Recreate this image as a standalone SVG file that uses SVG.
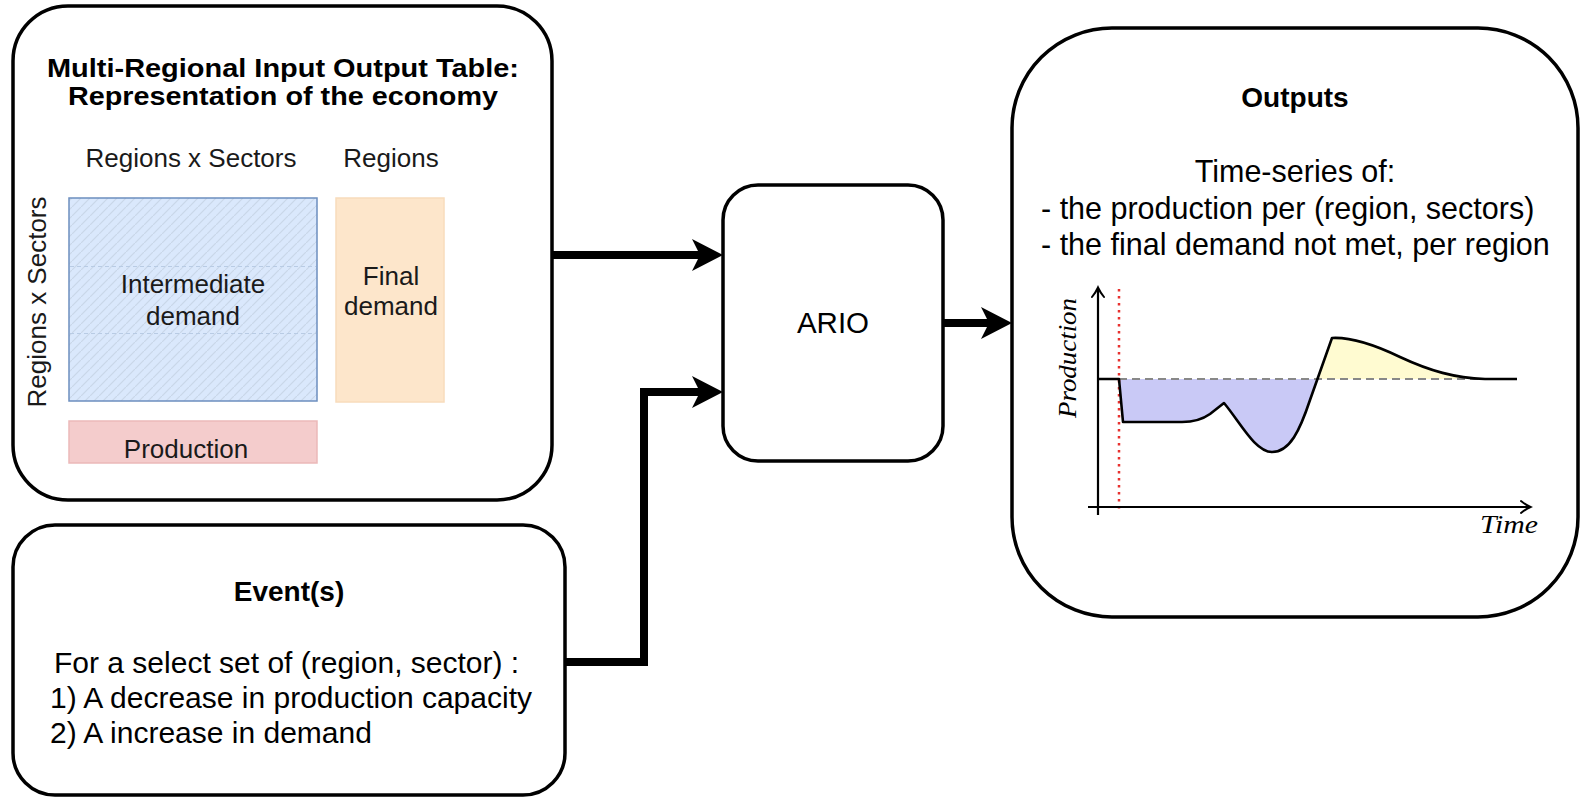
<svg xmlns="http://www.w3.org/2000/svg" width="1581" height="798" viewBox="0 0 1581 798">
<style>
.box{fill:#fff;stroke:#000;stroke-width:3.5}
.t{font-family:"Liberation Sans",Arial,sans-serif;fill:#000}
.b{font-weight:bold;font-size:28px}
.h{font-weight:bold;font-size:25px}
.r{font-size:29.5px}
.e{font-size:30px}
.o{font-size:30.5px}
.s{font-size:26px;fill:#1a1a1a}
.m{text-anchor:middle}
.conn{fill:none;stroke:#000;stroke-width:8;stroke-linejoin:miter}
.math{font-family:"Liberation Serif","Times New Roman",serif;font-style:italic;font-size:25px;fill:#000}
</style>
<defs>
<pattern id="hatch" patternUnits="userSpaceOnUse" width="9" height="9">
<rect width="9" height="9" fill="#dae8fc"/>
<path d="M-1,10 L10,-1" stroke="#c9d7e9" stroke-width="1.2"/>
</pattern>
<path id="ah" d="M0,0 L-31,-16 L-23,0 L-31,16 Z" fill="#000"/>
</defs>

<g id="mrio">
<rect class="box" x="13" y="6" width="539" height="494" rx="55" ry="55"/>
<text class="t h m" x="283" y="77" textLength="472" lengthAdjust="spacingAndGlyphs">Multi-Regional Input Output Table:</text>
<text class="t h m" x="283" y="105" textLength="430" lengthAdjust="spacingAndGlyphs">Representation of the economy</text>
<text class="t s m" x="191" y="167">Regions x Sectors</text>
<text class="t s m" x="391" y="167">Regions</text>
<text class="t s m" transform="translate(46,302) rotate(-90)">Regions x Sectors</text>
<rect x="69" y="198" width="248" height="203" fill="url(#hatch)" stroke="#6c8ebf" stroke-width="1.5"/>
<path d="M70,266.5 H316 M70,333.5 H316" stroke="#b8cbe4" stroke-width="1" stroke-dasharray="4,3" fill="none"/>
<text class="t s m" x="193" y="293">Intermediate</text>
<text class="t s m" x="193" y="325">demand</text>
<rect x="336" y="198" width="108" height="204" fill="#fde6cb" stroke="#f8dcbc" stroke-width="1.5"/>
<text class="t s m" x="391" y="285">Final</text>
<text class="t s m" x="391" y="315">demand</text>
<rect x="69" y="421" width="248" height="42" fill="#f4cccc" stroke="#ebb9b9" stroke-width="1.5"/>
<text class="t s m" x="186" y="458">Production</text>
</g>

<g id="events">
<rect class="box" x="13" y="525" width="552" height="270" rx="42" ry="42"/>
<text class="t b m" x="289" y="601">Event(s)</text>
<text class="t e" x="54" y="673">For a select set of (region, sector) :</text>
<text class="t e" x="50" y="708">1) A decrease in production capacity</text>
<text class="t e" x="50" y="743">2) A increase in demand</text>
</g>

<g id="ario">
<rect class="box" x="723" y="185" width="220" height="276" rx="35" ry="35"/>
<text class="t r m" x="833" y="333">ARIO</text>
</g>

<g id="outputs">
<rect class="box" x="1012" y="28" width="566" height="589" rx="100" ry="100" stroke-width="4"/>
<text class="t b m" x="1295" y="107">Outputs</text>
<text class="t o m" x="1295" y="182">Time-series of:</text>
<text class="t o" x="1041" y="219">- the production per (region, sectors)</text>
<text class="t o" x="1041" y="255">- the final demand not met, per region</text>
<g id="chart">
<path d="M1119,379 L1123,422 H1182 C1195,422 1203,419 1210,414 L1224,403 C1240,422 1255,452 1272,452 C1290,452 1300,430 1310,400 L1317,379 Z" fill="#c9c9f6"/>
<path d="M1317,379 L1332,338 C1350,337 1375,345 1400,357 C1430,371 1455,378 1485,379 Z" fill="#fffbd1"/>
<path d="M1119,379 H1485" stroke="#888" stroke-width="2" stroke-dasharray="8,5" fill="none"/>
<path d="M1119,289 V509" stroke="#e8312f" stroke-width="2.5" stroke-dasharray="2.5,4.5" fill="none"/>
<path d="M1098,515 V289 M1088,507 H1529" stroke="#000" stroke-width="2.2" fill="none"/>
<path d="M1092,297 Q1096,292 1098,287.5 Q1100,292 1104,297 M1521,501 Q1526,505 1530.5,507 Q1526,509 1521,513" stroke="#000" stroke-width="2" fill="none" stroke-linecap="round"/>
<path d="M1098,379 H1119 L1123,422 H1182 C1195,422 1203,419 1210,414 L1224,403 C1240,422 1255,452 1272,452 C1290,452 1300,430 1310,400 L1332,338 C1350,337 1375,345 1400,357 C1430,371 1455,378 1485,379 H1517" stroke="#000" stroke-width="2.6" fill="none" stroke-linejoin="round"/>
<text class="math" text-anchor="middle" transform="translate(1076,358) rotate(-90)" textLength="120" lengthAdjust="spacingAndGlyphs">Production</text>
<text class="math" x="1480" y="533" textLength="58" lengthAdjust="spacingAndGlyphs">Time</text>
</g>
</g>

<g id="connectors">
<path class="conn" d="M552,255 H705"/>
<use href="#ah" x="723" y="255"/>
<path class="conn" d="M565,662 H644 V392 H705"/>
<use href="#ah" x="723" y="392"/>
<path class="conn" d="M943,323 H995"/>
<use href="#ah" x="1012" y="323"/>
</g>
</svg>
